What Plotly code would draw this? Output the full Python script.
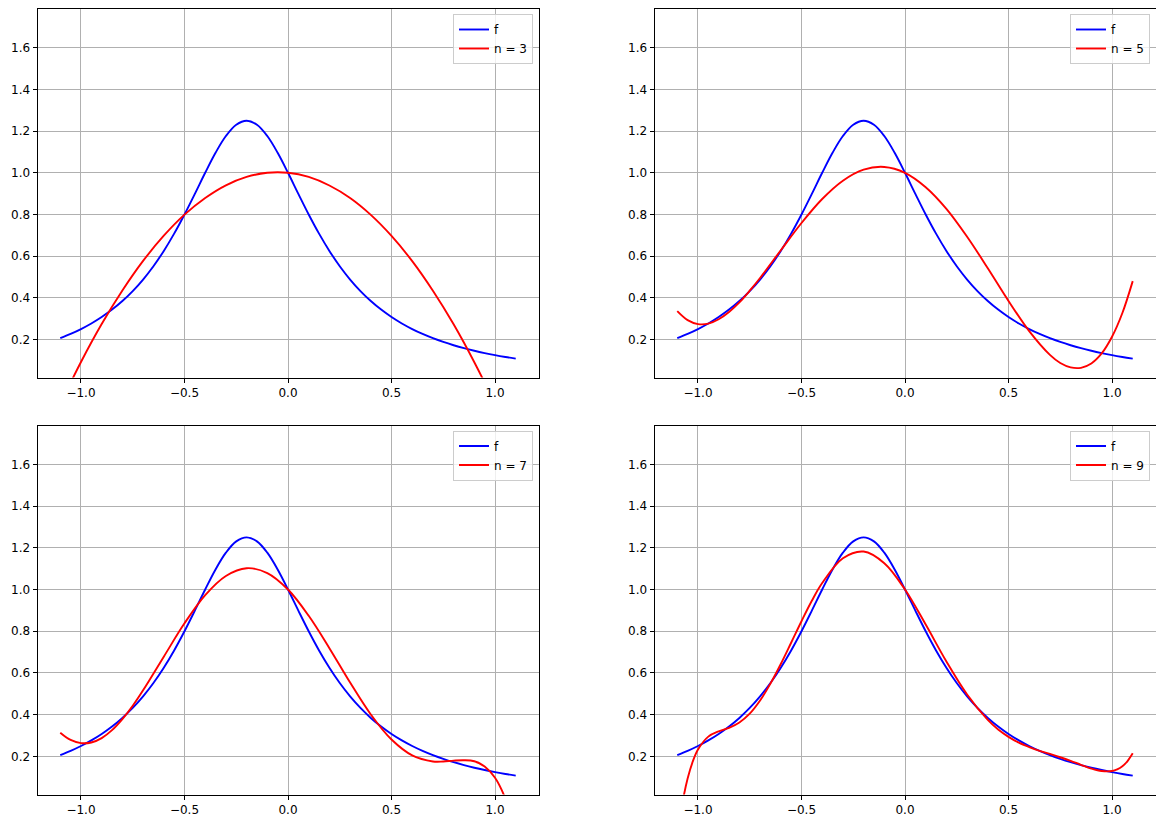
import plotly.graph_objects as go

# ---- data ----
x_f = [-1.1, -1.05, -1.0, -0.95, -0.9, -0.85, -0.8, -0.75, -0.7, -0.65, -0.6, -0.55,
       -0.5, -0.45, -0.4, -0.35, -0.3, -0.25, -0.2, -0.15, -0.1, -0.05, 0.0, 0.05,
       0.1, 0.15, 0.2, 0.25, 0.3, 0.35, 0.4, 0.45, 0.5, 0.55, 0.6, 0.65, 0.7, 0.75,
       0.8, 0.85, 0.9, 0.95, 1.0, 1.05, 1.1]
f_vals = [0.2062, 0.2266, 0.2500, 0.2768, 0.3077, 0.3434, 0.3846, 0.4324, 0.4878, 0.5517,
          0.6250, 0.7080, 0.8000, 0.8989, 1.0000, 1.0959, 1.1765, 1.2308, 1.2500, 1.2308,
          1.1765, 1.0959, 1.0000, 0.8989, 0.8000, 0.7080, 0.6250, 0.5517, 0.4878, 0.4324,
          0.3846, 0.3434, 0.3077, 0.2768, 0.2500, 0.2266, 0.2062, 0.1882, 0.1724, 0.1584,
          0.1460, 0.1349, 0.1250, 0.1161, 0.1081]

x_n3 = [-1.1, -1.0, -0.9, -0.8, -0.7, -0.6, -0.5, -0.4, -0.3, -0.2, -0.1, 0.0,
        0.1, 0.2, 0.3, 0.4, 0.5, 0.6, 0.7, 0.8, 0.9, 1.0, 1.1]
p3 = [-0.110, 0.092, 0.274, 0.435, 0.577, 0.698, 0.799, 0.879, 0.940, 0.980, 1.000, 1.000,
      0.980, 0.939, 0.879, 0.798, 0.697, 0.576, 0.434, 0.273, 0.091, -0.111, -0.334]

x_n5 = [-1.1, -1.05, -1.0, -0.95, -0.9, -0.85, -0.8, -0.75, -0.7, -0.6, -0.5, -0.4, -0.3,
        -0.2, -0.1, 0.0, 0.1, 0.2, 0.3, 0.4, 0.5, 0.6, 0.7, 0.75, 0.8, 0.85, 0.9, 0.95,
        1.0, 1.05, 1.1]
p5 = [0.336, 0.293, 0.274, 0.276, 0.297, 0.332, 0.378, 0.434, 0.495, 0.628, 0.759, 0.874,
      0.962, 1.015, 1.028, 1.000, 0.931, 0.827, 0.693, 0.542, 0.385, 0.240, 0.126, 0.087,
      0.066, 0.064, 0.085, 0.133, 0.213, 0.327, 0.480]

x_n7 = [-1.1, -1.05, -1.0, -0.95, -0.9, -0.85, -0.8, -0.75, -0.7, -0.6, -0.5, -0.4, -0.3,
        -0.2, -0.1, 0.0, 0.1, 0.2, 0.3, 0.4, 0.5, 0.6, 0.7, 0.75, 0.8, 0.85, 0.9, 0.95,
        1.0, 1.05, 1.1]
p7 = [0.314, 0.279, 0.264, 0.267, 0.288, 0.326, 0.379, 0.443, 0.517, 0.678, 0.838, 0.973,
      1.065, 1.102, 1.079, 1.000, 0.874, 0.719, 0.554, 0.401, 0.281, 0.205, 0.176, 0.176,
      0.180, 0.182, 0.177, 0.152, 0.098, -0.002, -0.164]

x_n9 = [-1.1, -1.075, -1.05, -1.025, -1.0, -0.95, -0.9, -0.85, -0.8, -0.75, -0.7, -0.65,
        -0.6, -0.55, -0.5, -0.45, -0.4, -0.3, -0.2, -0.1, 0.0, 0.1, 0.2, 0.3, 0.4, 0.45,
        0.5, 0.55, 0.6, 0.65, 0.7, 0.75, 0.8, 0.85, 0.9, 0.95, 1.0, 1.025, 1.05, 1.075, 1.1]
p9 = [-0.182, -0.022, 0.094, 0.176, 0.233, 0.295, 0.320, 0.337, 0.363, 0.405, 0.468, 0.549,
      0.643, 0.745, 0.848, 0.946, 1.031, 1.150, 1.182, 1.126, 1.000, 0.832, 0.655, 0.497,
      0.375, 0.329, 0.294, 0.266, 0.245, 0.227, 0.212, 0.196, 0.179, 0.160, 0.142, 0.130,
      0.130, 0.138, 0.153, 0.178, 0.215]

labels = ["n = 3", "n = 5", "n = 7", "n = 9"]
x_tickvals = [-1.0, -0.5, 0.0, 0.5, 1.0]
x_ticktext = ["\u22121.0", "\u22120.5", "0.0", "0.5", "1.0"]
y_tickvals = [0.2, 0.4, 0.6, 0.8, 1.0, 1.2, 1.4, 1.6]
y_ticktext = ["0.2", "0.4", "0.6", "0.8", "1.0", "1.2", "1.4", "1.6"]

# ---- layout geometry ----
W, H = 1156, 817
col_px = [(37.5, 538.5), (654.5, 1155.5)]
row_px = [(9.0, 377.5), (425.5, 794.5)]
FONT = "DejaVu Sans"
FS = 12

series = [(x_n3, p3), (x_n5, p5), (x_n7, p7), (x_n9, p9)]

fig = go.Figure()
layout = dict(
    width=W, height=H,
    margin=dict(l=0, r=0, t=0, b=0),
    paper_bgcolor="white", plot_bgcolor="white",
    font=dict(family=FONT, size=FS, color="black"),
    showlegend=True,
)

for i, ((xn, pn), lab) in enumerate(zip(series, labels)):
    k = "" if i == 0 else str(i + 1)
    r, c = divmod(i, 2)
    x0, x1 = col_px[c]
    ytop, ybot = row_px[r]
    fig.add_trace(go.Scatter(
        x=x_f, y=f_vals, mode="lines", name="f",
        line=dict(color="#0000ff", width=1.9, shape="spline"),
        xaxis="x" + k, yaxis="y" + k, legend="legend" + k, hoverinfo="skip"))
    fig.add_trace(go.Scatter(
        x=xn, y=pn, mode="lines", name=lab,
        line=dict(color="#ff0000", width=1.9, shape="spline"),
        xaxis="x" + k, yaxis="y" + k, legend="legend" + k, hoverinfo="skip"))

    axis_common = dict(
        showline=True, mirror=True, linecolor="black", linewidth=1,
        showgrid=True, gridcolor="#b0b0b0", gridwidth=1, zeroline=False,
        ticks="outside", ticklen=4, tickwidth=1, tickcolor="black",
        tickfont=dict(family=FONT, size=FS, color="black"),
        fixedrange=True,
    )
    layout["xaxis" + k] = dict(
        domain=[x0 / W, x1 / W], anchor="y" + k, range=[-1.21, 1.21],
        tickmode="array", tickvals=x_tickvals, ticktext=x_ticktext, **axis_common)
    layout["yaxis" + k] = dict(
        domain=[1 - ybot / H, 1 - ytop / H], anchor="x" + k, range=[0.0176, 1.786],
        tickmode="array", tickvals=y_tickvals, ticktext=y_ticktext, **axis_common)
    layout["legend" + k] = dict(
        x=(x1 - 5.5) / W, y=1 - (ytop + 5.0) / H, xanchor="right", yanchor="top",
        bgcolor="rgba(255,255,255,0.8)", bordercolor="#cccccc", borderwidth=1,
        font=dict(family=FONT, size=FS, color="black"), tracegroupgap=0,
    )

fig.update_layout(**layout)
fig.write_html(
    "out.html",
    config={"displayModeBar": False},
    post_script="document.body.style.margin='0';document.body.style.overflow='hidden';",
)
